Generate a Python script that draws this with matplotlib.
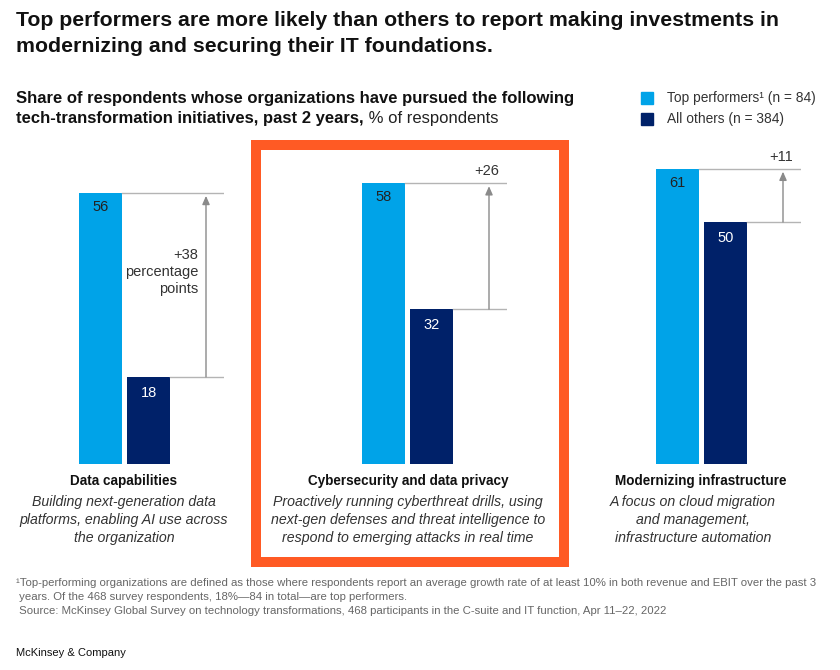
import matplotlib
matplotlib.use("Agg")
import matplotlib.pyplot as plt
from matplotlib import font_manager
from matplotlib.patches import Rectangle

# data
categories = ["Data capabilities", "Cybersecurity and data privacy", "Modernizing infrastructure"]
descriptions = [
    "Building next-generation data\nplatforms, enabling AI use across\nthe organization",
    "Proactively running cyberthreat drills, using\nnext-gen defenses and threat intelligence to\nrespond to emerging attacks in real time",
    "A focus on cloud migration\nand management,\ninfrastructure automation",
]
top_performers = [56, 58, 61]
all_others = [18, 32, 50]
diff_labels = ["+38\npercentage\npoints", "+26", "+11"]
legend_labels = ["Top performers\u00b9 (n = 84)", "All others (n = 384)"]

LIGHT = "#00A3E8"
DARK = "#002169"
ORANGE = "#FF5A24"
GRID = "#B4B4B4"
TXT = "#333333"

names = {f.name for f in font_manager.fontManager.ttflist}
BODY = "Liberation Sans" if "Liberation Sans" in names else "DejaVu Sans"
HEAD = BODY

W, H = 840, 670
fig = plt.figure(figsize=(W / 100, H / 100), dpi=100)
renderer = fig.canvas.get_renderer()


def fx(x):
    return x / W


def fy(y):
    return 1 - y / H


def fit(txt, width_px):
    # scale font size so the text spans the width measured on the reference
    w = txt.get_window_extent(renderer).width
    txt.set_fontsize(txt.get_fontsize() * width_px / w)


# title + subtitle
t1 = fig.text(fx(16), fy(20), "Top performers are more likely than others to report making investments in",
              fontsize=15, fontweight="bold", family=HEAD, va="center", color="#111")
fit(t1, 766)
t2 = fig.text(fx(16), fy(46), "modernizing and securing their IT foundations.",
              fontsize=t1.get_fontsize(), fontweight="bold", family=HEAD, va="center", color="#111")
s1 = fig.text(fx(16), fy(99), "Share of respondents whose organizations have pursued the following",
              fontsize=12, fontweight="bold", family=HEAD, va="center", color="#111")
fit(s1, 558)
s2 = fig.text(fx(16), fy(119), "tech-transformation initiatives, past 2 years,",
              fontsize=s1.get_fontsize(), fontweight="bold", family=HEAD, va="center", color="#111")
s2_w = s2.get_window_extent(renderer).width
fig.text(fx(16 + s2_w), fy(119), " % of respondents", va="center", ha="left",
         fontsize=s1.get_fontsize(), family=HEAD, color="#222")

# legend
for i, (lab, col) in enumerate(zip(legend_labels, [LIGHT, DARK])):
    yc = 98 + i * 21
    fig.patches.append(Rectangle((fx(641), fy(yc + 6)), 12 / W, 12 / H, color=col,
                                 transform=fig.transFigure))
    lt = fig.text(fx(667), fy(yc), lab, fontsize=10, family=BODY, va="center", color=TXT)
    if i == 0:
        fit(lt, 150)
        lfs = lt.get_fontsize()
    else:
        lt.set_fontsize(lfs)

# one axes per group
lefts = [79, 362, 656]
scale = 4.84  # px per percentage point
ymax = 70
bw = 43
for i in range(3):
    L = lefts[i]
    ax = fig.add_axes([fx(L), fy(464), 145 / W, ymax * scale / H])
    ax.set_xlim(0, 145)
    ax.set_ylim(0, ymax)
    ax.axis("off")
    tp, ao = top_performers[i], all_others[i]
    ax.bar([0], [tp], width=bw, align="edge", color=LIGHT)
    ax.bar([48], [ao], width=bw, align="edge", color=DARK)
    ax.plot([bw, 145], [tp, tp], color=GRID, lw=1)
    ax.plot([48 + bw, 145], [ao, ao], color=GRID, lw=1)
    ax.annotate("", xy=(127, tp - 0.6), xytext=(127, ao),
                arrowprops=dict(arrowstyle="-|>,head_length=0.5,head_width=0.22",
                                color="#8a8a8a", lw=1, shrinkA=0, shrinkB=0))
    ax.text(bw / 2, tp - 14 / scale, str(tp), ha="center", va="center",
            fontsize=10.5, family=BODY, color="#222")
    ax.text(48 + bw / 2, ao - 16 / scale, str(ao), ha="center", va="center",
            fontsize=10.5, family=BODY, color="white")
    if i == 0:
        ax.text(119, (tp + ao) / 2 + 2.7, diff_labels[i], ha="right", va="center",
                fontsize=10.5, family=BODY, color=TXT, linespacing=1.3)
    else:
        ax.text(137, tp + 12 / scale, diff_labels[i], ha="right", va="center",
                fontsize=10.5, family=BODY, color=TXT)

# category labels
cat_x = [124, 408, 701]
desc_x = [124, 408, 693]
probe = fig.text(0, 0, categories[1], fontsize=10.5, fontweight="bold", family=BODY)
fit(probe, 202)
cat_fs = probe.get_fontsize()
probe.remove()
probe = fig.text(0, 0, descriptions[1].split("\n")[0], fontsize=10.5, style="italic", family=BODY)
fit(probe, 270)
desc_fs = probe.get_fontsize()
probe.remove()
for i in range(3):
    fig.text(fx(cat_x[i]), fy(481), categories[i], ha="center", va="center",
             fontsize=cat_fs, fontweight="bold", family=BODY, color="#111")
    fig.text(fx(desc_x[i]), fy(520), descriptions[i], ha="center", va="center",
             fontsize=desc_fs, style="italic", family=BODY, color=TXT, linespacing=1.38)

# highlight box
fig.patches.append(Rectangle((fx(256), fy(562)), (564 - 256) / W, (562 - 145) / H,
                             fill=False, edgecolor=ORANGE, lw=7.2, joinstyle="miter",
                             transform=fig.transFigure))

# footnotes
foot_lines = [
    "\u00b9Top-performing organizations are defined as those where respondents report an average growth rate of at least 10% in both revenue and EBIT over the past 3",
    " years. Of the 468 survey respondents, 18%\u201484 in total\u2014are top performers.",
    " Source: McKinsey Global Survey on technology transformations, 468 participants in the C-suite and IT function, Apr 11\u201322, 2022",
]
f0 = fig.text(fx(16), fy(583), foot_lines[0], fontsize=7.5, family=BODY, va="center", color="#666")
fit(f0, 797)
for k, line in enumerate(foot_lines[1:]):
    fig.text(fx(16), fy(597 + 13.5 * k), line, fontsize=f0.get_fontsize(), family=BODY,
             va="center", color="#666")
fig.text(fx(16), fy(653), "McKinsey & Company", fontsize=8, family=BODY, va="center", color="#111")

fig.savefig("out.png", dpi=100)
